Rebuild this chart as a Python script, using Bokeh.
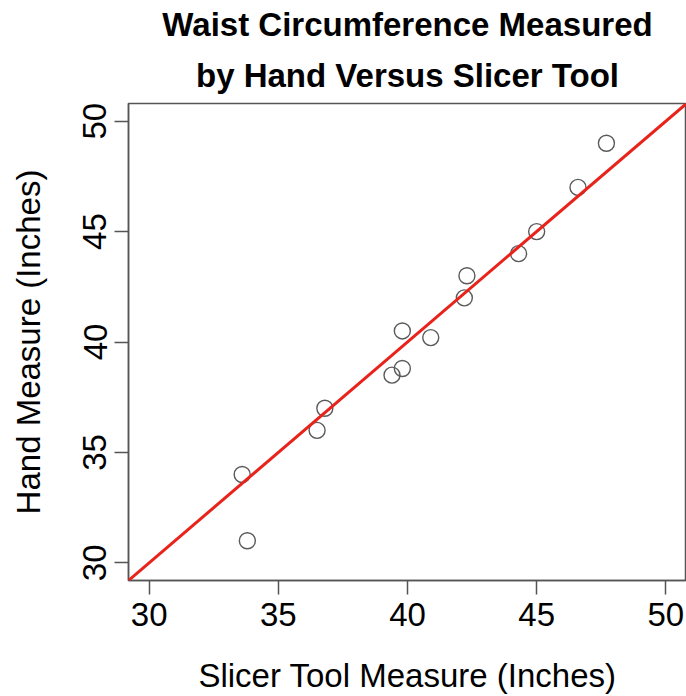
from bokeh.plotting import figure
from bokeh.models import Range1d, FixedTicker, Slope, ColumnDataSource, Title
from bokeh.embed import file_html
from bokeh.resources import INLINE

# Data
slicer_in = [47.7, 46.6, 45.0, 44.3, 42.3, 42.2, 39.8, 40.9, 39.4, 39.8, 36.8, 36.5, 33.6, 33.8]
hand_in   = [49.0, 47.0, 45.0, 44.0, 43.0, 42.0, 40.5, 40.2, 38.5, 38.8, 37.0, 36.0, 34.0, 31.0]
ticks = [30, 35, 40, 45, 50]
ref_intercept = 0.0
ref_slope = 1.0
title_lines = ["Waist Circumference Measured", "by Hand Versus Slicer Tool"]

FONT = "Liberation Sans"

p = figure(width=686, height=696, output_backend="svg", toolbar_location=None,
           x_range=Range1d(29.2, 50.8), y_range=Range1d(29.2, 50.8),
           min_border_left=128, min_border_right=0, min_border_top=103, min_border_bottom=116,
           background_fill_color="white", border_fill_color="white", title=None)

# second line first (closest to the frame), then first line above it
for i, line in enumerate(reversed(title_lines)):
    t = Title(text=line, align="center", text_font=FONT, text_font_size="33px",
              text_font_style="bold", text_color="black", text_line_height=1.0,
              standoff=(20 if i == 0 else 3), offset=0)
    p.add_layout(t, "above")

p.grid.visible = False
p.outline_line_color = "#555555"
p.outline_line_width = 1.5

for ax in (p.xaxis[0], p.yaxis[0]):
    ax.ticker = FixedTicker(ticks=ticks)
    ax.minor_tick_line_color = None
    ax.major_tick_in = 0
    ax.major_tick_out = 14
    ax.major_tick_line_color = "#555555"
    ax.major_tick_line_width = 1.5
    ax.axis_line_color = "#555555"
    ax.axis_line_width = 1.5
    ax.major_label_text_font = FONT
    ax.major_label_text_font_size = "33px"
    ax.major_label_text_color = "black"
    ax.axis_label_text_font = FONT
    ax.axis_label_text_font_size = "33px"
    ax.axis_label_text_font_style = "normal"
    ax.axis_label_text_color = "black"

p.xaxis.axis_label = "Slicer Tool Measure (Inches)"
p.yaxis.axis_label = "Hand Measure (Inches)"
p.yaxis.major_label_orientation = "vertical"
p.xaxis.major_label_standoff = 8
p.xaxis.axis_label_standoff = 28
p.yaxis.major_label_standoff = 8
p.yaxis.axis_label_standoff = 34

src = ColumnDataSource(dict(x=slicer_in, y=hand_in))
p.scatter("x", "y", source=src, size=16, marker="circle", fill_color=None,
          line_color="#5a5a5a", line_width=1.4)

p.add_layout(Slope(gradient=ref_slope, y_intercept=ref_intercept,
                   line_color="#e8231b", line_width=3))

open("out.html", "w").write(file_html(p, INLINE))
